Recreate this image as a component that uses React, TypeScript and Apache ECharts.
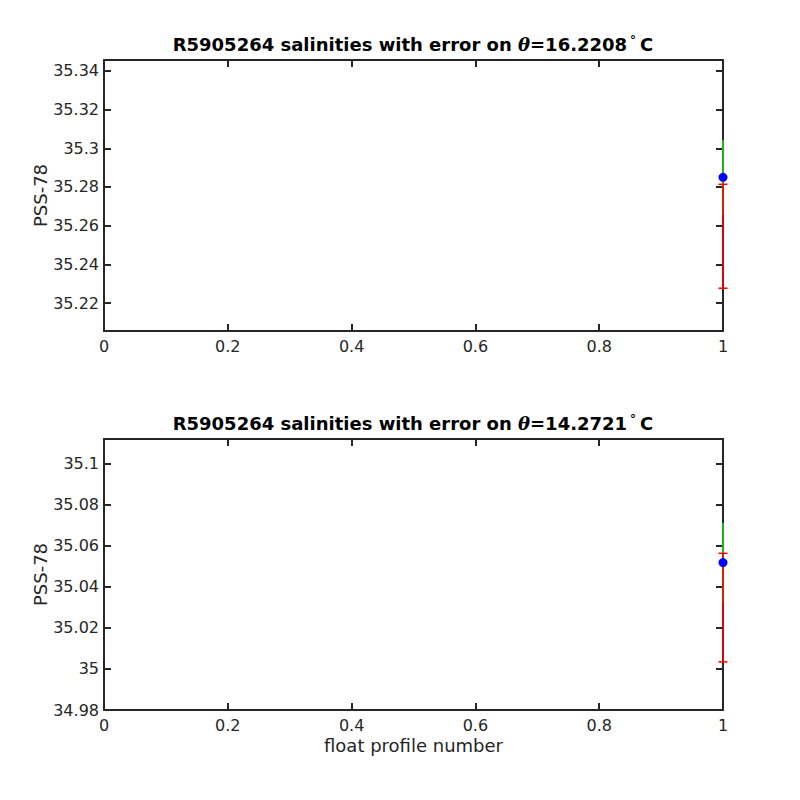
import React, { useEffect, useRef } from "react";
import * as echarts from "echarts";

const profileNumbers = [1];
const xTicks = [0, 0.2, 0.4, 0.6, 0.8, 1];

// top panel (theta = 16.2208)
const topTitleTheta = "16.2208";
const topSalinity = [35.285];
const topRedLow = [35.2277];
const topRedHigh = [35.2814];
const topGreenLow = [35.2657];
const topGreenHigh = [35.3043];
const topYTicks = [35.22, 35.24, 35.26, 35.28, 35.3, 35.32, 35.34];
const topYMin = 35.2056;
const topYMax = 35.3456;

// bottom panel (theta = 14.2721)
const botTitleTheta = "14.2721";
const botSalinity = [35.0517];
const botRedLow = [35.0034];
const botRedHigh = [35.0562];
const botGreenLow = [35.0325];
const botGreenHigh = [35.0709];
const botYTicks = [34.98, 35.0, 35.02, 35.04, 35.06, 35.08, 35.1];
const botYMin = 34.98;
const botYMax = 35.1118;

const AX = "#262626";
const FONT = "DejaVu Sans";

function errRender(color: string, caps: boolean, lw: number) {
  return (params: any, api: any) => {
    const x = api.value(0);
    const lo = api.value(1);
    const hi = api.value(2);
    const p1 = api.coord([x, lo]);
    const p2 = api.coord([x, hi]);
    const children: any[] = [
      {
        type: "line",
        shape: { x1: p1[0], y1: p1[1], x2: p2[0], y2: p2[1] },
        style: { stroke: color, lineWidth: lw },
      },
    ];
    if (caps) {
      const w = 4.5;
      children.push({
        type: "line",
        shape: { x1: p1[0] - w, y1: p1[1], x2: p1[0] + w, y2: p1[1] },
        style: { stroke: color, lineWidth: 1.5 },
      });
      children.push({
        type: "line",
        shape: { x1: p2[0] - w, y1: p2[1], x2: p2[0] + w, y2: p2[1] },
        style: { stroke: color, lineWidth: 1.5 },
      });
    }
    return { type: "group", children };
  };
}

function titleText(theta: string) {
  return `{b|R5905264 salinities with error on }{i|θ}{b|=${theta}}{d|°}{b|C}`;
}

const titleRich = {
  b: { fontFamily: FONT, fontWeight: "bold", fontSize: 18, color: "#000", lineHeight: 21 },
  i: { fontFamily: "DejaVu Serif", fontStyle: "italic", fontSize: 18, color: "#000", lineHeight: 21 },
  d: { fontFamily: FONT, fontSize: 12, color: "#000", verticalAlign: "top", lineHeight: 12, padding: [0, 4, 0, 3] },
};

function xAxes(gridIndex: number, showLabels: boolean, withName: boolean) {
  const base: any = {
    type: "value",
    gridIndex,
    min: xTicks[0],
    max: xTicks[xTicks.length - 1],
    interval: 0.2,
    axisLine: { show: true, onZero: false, lineStyle: { color: AX, width: 2 } },
    axisTick: { show: true, inside: true, length: 7, lineStyle: { color: AX, width: 2 } },
    splitLine: { show: false },
  };
  return [
    {
      ...base,
      position: "bottom",
      axisLabel: { show: showLabels, color: AX, fontFamily: FONT, fontSize: 16, margin: 7 },
      name: withName ? "float profile number" : "",
      nameLocation: "middle",
      nameGap: 26,
      nameMoveOverlap: false,
      nameTextStyle: { color: AX, fontFamily: FONT, fontSize: 18 },
    },
    { ...base, position: "top", axisLabel: { show: false } },
  ];
}

function yAxes(gridIndex: number, ticks: number[], min: number, max: number) {
  const base: any = {
    type: "value",
    gridIndex,
    min,
    max,
    axisLine: { show: true, onZero: false, lineStyle: { color: AX, width: 2 } },
    axisTick: { show: true, inside: true, length: 7, customValues: ticks, lineStyle: { color: AX, width: 2 } },
    splitLine: { show: false },
  };
  return [
    {
      ...base,
      position: "left",
      axisLabel: { show: true, color: AX, fontFamily: FONT, fontSize: 16, margin: 5, customValues: ticks },
      name: "PSS-78",
      nameLocation: "middle",
      nameGap: 55,
      nameMoveOverlap: false,
      nameTextStyle: { color: AX, fontFamily: FONT, fontSize: 18 },
    },
    { ...base, position: "right", axisLabel: { show: false } },
  ];
}

function panelSeries(
  xi: number,
  yi: number,
  sal: number[],
  rLo: number[],
  rHi: number[],
  gLo: number[],
  gHi: number[]
) {
  return [
    {
      type: "custom",
      xAxisIndex: xi,
      yAxisIndex: yi,
      clip: false,
      z: 3,
      renderItem: errRender("#1cb51c", false, 2),
      encode: { x: 0, y: [1, 2] },
      data: profileNumbers.map((p, k) => [p, gLo[k], gHi[k]]),
    },
    {
      type: "custom",
      xAxisIndex: xi,
      yAxisIndex: yi,
      clip: false,
      z: 4,
      renderItem: errRender("#ff0000", true, 1.6),
      encode: { x: 0, y: [1, 2] },
      data: profileNumbers.map((p, k) => [p, rLo[k], rHi[k]]),
    },
    {
      type: "line",
      xAxisIndex: xi,
      yAxisIndex: yi,
      clip: false,
      z: 5,
      symbol: "circle",
      symbolSize: 9,
      itemStyle: { color: "#0000ff" },
      lineStyle: { color: "#0000ff", width: 1 },
      data: profileNumbers.map((p, k) => [p, sal[k]]),
    },
  ];
}

export default function App() {
  const ref = useRef<HTMLDivElement>(null);
  useEffect(() => {
    if (!ref.current) return;
    const chart = echarts.init(ref.current, null, { renderer: "svg" });
    chart.setOption({
      animation: false,
      backgroundColor: "#fff",
      title: [
        {
          text: titleText(topTitleTheta),
          left: 413,
          textAlign: "center",
          top: 34,
          padding: 0,
          textStyle: { rich: titleRich },
        },
        {
          text: titleText(botTitleTheta),
          left: 413,
          textAlign: "center",
          top: 413,
          padding: 0,
          textStyle: { rich: titleRich },
        },
      ],
      grid: [
        { left: 104, right: 77, top: 60, height: 271 },
        { left: 104, right: 77, top: 439, height: 271 },
      ],
      xAxis: [...xAxes(0, true, false), ...xAxes(1, true, true)],
      yAxis: [
        ...yAxes(0, topYTicks, topYMin, topYMax),
        ...yAxes(1, botYTicks, botYMin, botYMax),
      ],
      series: [
        ...panelSeries(0, 0, topSalinity, topRedLow, topRedHigh, topGreenLow, topGreenHigh),
        ...panelSeries(2, 2, botSalinity, botRedLow, botRedHigh, botGreenLow, botGreenHigh),
      ],
    });
    return () => chart.dispose();
  }, []);
  return <div ref={ref} style={{ width: 800, height: 800, position: "absolute", left: 0, top: 0 }} />;
}
